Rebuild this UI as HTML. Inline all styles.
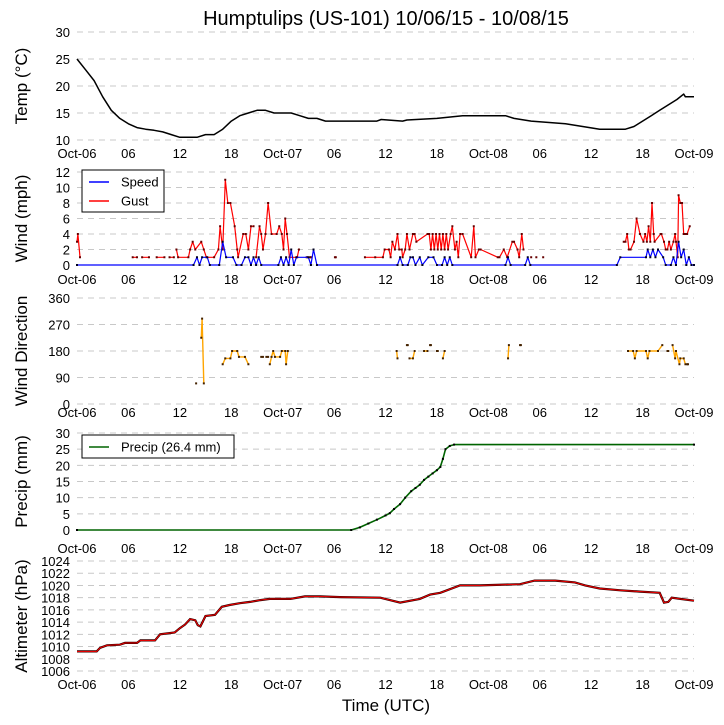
<!DOCTYPE html>
<html><head><meta charset="utf-8"><style>
body{margin:0;background:#fff;}
svg{display:block;font-family:"Liberation Sans","DejaVu Sans",sans-serif;}
</style></head><body>
<svg id="c" width="724" height="725" viewBox="0 0 724 725"></svg>
<script>
const tickLabels=["Oct-06","06","12","18","Oct-07","06","12","18","Oct-08","06","12","18","Oct-09"];
const tempT=[0,1,2,3,4,5,6,7,8,9,10,11,12,13,14,15,16,17,18,19,20,21,22,23,24,25,26,27,28,29,35,35.5,38,38.5,42,45,50,51,53,57,59,61,64,65,66,67,68,69,70,70.8,71,72];
const tempV=[25,23,21,18,15.5,14,13,12.3,12,11.8,11.5,11,10.5,10.5,10.5,11,11,12,13.5,14.5,15,15.5,15.5,15,15,15,14.5,14,14,13.5,13.5,13.8,13.5,13.7,14,14.5,14.5,14,13.5,13,12.5,12,12,12.5,13.5,14.5,15.5,16.5,17.5,18.5,18,18];
const speedT=[0,13.6,14,14.3,14.6,15.2,15.5,16.6,17,17.4,18.2,18.6,19.2,19.6,20,20.3,20.6,20.9,21.2,21.5,23.5,23.8,24.1,24.4,24.7,25,25.3,25.6,27,27.3,27.6,28,37.4,37.7,38,38.6,38.9,39.2,39.5,40,40.3,41,41.6,42,42.6,42.9,43.2,43.5,43.8,50,50.3,50.6,52.3,52.6,52.9,63,63.4,66.4,66.6,66.9,67.2,67.5,67.8,68.4,68.7,69.3,69.6,69.9,70.2,70.5,70.8,71.1,71.4,71.7,72];
const speedV=[0,0,1,0,1,1,0,0,3,1,1,0,0,1,1,0,1,0,1,0,0,1,0,1,0,2,0,1,1,0,2,0,0,1,0,0,1,1,0,1,0,1,1,0,0,1,0,1,0,0,1,0,0,1,0,0,1,1,2,1,2,1,2,1,0,0,1,0,3,1,2,0,1,0,0];
const gustT=[0,0.1,0.35,null,6.5,7,null,7.6,8.4,null,9.3,10.2,null,10.8,11.3,null,11.6,11.8,13,13.2,13.5,13.8,14.5,14.8,15.1,16,16.5,16.7,17,17.3,17.6,17.9,18.4,18.7,18.8,19.4,19.7,20,20.3,20.6,null,20.9,21.3,21.5,21.7,22,22.3,22.7,23.3,23.6,23.9,24.1,24.3,24.5,24.8,25.7,25.9,null,26.8,26.9,null,27.2,27.3,null,30.1,30.2,null,33.6,34.8,35.7,35.9,36.4,36.6,36.8,37.1,37.4,37.6,37.9,38,38.3,38.5,38.8,39.2,39.4,39.6,40.9,41.1,41.3,41.5,41.7,41.9,42.1,42.3,42.5,42.7,42.9,43.1,43.3,43.6,43.8,44.1,44.3,44.5,44.7,45.0,46,46.3,46.5,46.9,47.1,49.1,49.3,49.8,50.2,50.8,51,51.4,51.6,51.9,52.1,null,52.9,53,null,53.5,53.6,null,54.3,54.4,null,63.4,63.8,64,64.2,64.4,64.6,65,65.3,65.7,66.1,66.3,66.5,66.7,66.9,67.1,67.3,67.4,68.1,68.2,68.5,68.7,68.9,69.1,69.3,69.6,69.8,69.9,70.1,70.2,70.4,70.6,70.8,71,71.2,71.5];
const gustV=[3,4,1,null,1,1,null,1,1,null,1,1,null,1,1,null,2,1,1,2,3,2,3,2,1,1,2,5,2,11,8,8,5,2,1,4,4,2,5,5,null,1,5,4,2,4,8,4,4,5,4,2,6,4,1,1,2,null,1,1,null,1,1,null,1,1,null,1,1,1,2,2,1,3,2,4,2,2,1,2,4,2,4,4,3,4,4,2,4,2,4,2,4,2,4,2,4,2,4,5,2,3,1,4,4,1,5,1,2,2,1,1,2,1,3,3,2,1,4,2,1,null,1,1,null,1,1,null,1,1,null,3,3,4,2,2,3,6,4,3,4,3,5,3,8,4,3,4,4,3,2,2,3,2,3,4,3,1,9,8,8,4,4,4,5,2];
const dirT=[13.9,null,14.5,14.6,14.8,null,17,17.3,17.9,18.1,18.7,18.9,19.6,20,null,21.5,21.7,null,22.1,22.3,null,22.5,22.7,22.9,23.1,23.7,23.9,24.3,24.4,24.6,null,37.3,37.4,null,38.5,38.6,null,38.8,39.2,39.4,null,40.5,40.9,null,41.2,41.3,null,42,42.1,null,42.7,42.9,null,50.3,50.4,null,51.7,51.8,null,64.3,64.9,65.1,65.3,66.4,66.6,66.8,67.8,68.3,null,68.9,69,null,69.5,69.8,69.9,70.3,70.4,70.8,71,null,71.2,71.3];
const dirV=[70,null,225,290,70,null,135,155,155,180,180,160,160,135,null,160,160,null,160,160,null,135,160,180,160,160,180,180,135,180,null,180,155,null,200,200,null,155,155,180,null,180,180,null,200,200,null,180,180,null,155,180,null,155,200,null,200,200,null,180,180,155,180,180,155,180,180,200,null,180,180,null,200,155,180,135,155,155,135,null,135,135];
const precT=[0,32,33,34,35,36,36.5,37,37.7,38.3,39,39.5,40,40.5,41,41.5,42,42.4,42.7,43,43.5,44,72];
const precV=[0,0,0.8,2,3.2,4.5,5.2,6.5,8,10,12,13,14,15.5,16.5,17.5,18.5,19.5,22,25,26,26.4,26.4];
const altT=[0,2.3,2.7,3.5,5,5.6,7,7.4,9.1,9.7,10.8,11.4,12,12.6,13.2,13.8,14.1,14.4,15,16.1,16.9,17.8,19,20.2,21.4,22.5,24.9,26.6,28.4,30.7,35.4,36.5,37.7,40,41.2,42.4,44.7,47,51.7,53.4,55.8,58.1,59.3,61,63.4,65.7,68,68.5,69,69.4,70.4,72];
const altV=[1009.2,1009.2,1009.8,1010.2,1010.3,1010.6,1010.6,1011,1011,1012,1012.2,1012.3,1013,1013.6,1014.5,1014.3,1013.5,1013.3,1015,1015.2,1016.5,1016.8,1017.1,1017.3,1017.6,1017.8,1017.8,1018.2,1018.2,1018.1,1018,1017.6,1017.2,1017.8,1018.5,1018.8,1020,1020,1020.2,1020.8,1020.8,1020.5,1020,1019.5,1019.2,1019,1018.8,1017.2,1017.3,1018,1017.8,1017.5];

const NS="http://www.w3.org/2000/svg";
const svg=document.getElementById('c');
const X0=77,X1=694;
const xs=h=>X0+(X1-X0)*h/72;
function el(tag,attrs,parent){const e=document.createElementNS(NS,tag);for(const k in attrs)e.setAttribute(k,attrs[k]);(parent||svg).appendChild(e);return e;}
function txt(s,x,y,size,anchor,parent){const t=el('text',{x:x,y:y,'font-size':size,'text-anchor':anchor||'middle',fill:'#000'},parent);t.textContent=s;return t;}
function pathD(T,V,ys){let d='',pen=false;for(let i=0;i<T.length;i++){if(T[i]===null||V[i]===null){pen=false;continue;}d+=(pen?'L':'M')+xs(T[i]).toFixed(1)+' '+ys(V[i]).toFixed(1);pen=true;}return d;}
const panels=[
 {name:'temp-panel',label:'Temp (\u00B0C)',top:32,bot:140,min:10,max:30,ticks:[10,15,20,25,30],xl:158},
 {name:'wind-panel',label:'Wind (mph)',top:172,bot:265,min:0,max:12,ticks:[0,2,4,6,8,10,12],xl:284},
 {name:'wind-direction-panel',label:'Wind Direction',top:298,bot:404,min:0,max:360,ticks:[0,90,180,270,360],xl:417},
 {name:'precip-panel',label:'Precip (mm)',top:433,bot:530,min:0,max:30,ticks:[0,5,10,15,20,25,30],xl:553},
 {name:'altimeter-panel',label:'Altimeter (hPa)',top:561,bot:671,min:1006,max:1024,ticks:[1006,1008,1010,1012,1014,1016,1018,1020,1022,1024],xl:689}
];
const title=txt('Humptulips (US-101) 10/06/15 - 10/08/15',386,25,20);


const xt=txt('Time (UTC)',386,711,17);


const scales=[];
panels.forEach((p,pi)=>{
 const g=el('g',{});
 
 
 const ys=v=>p.bot-(p.bot-p.top)*(v-p.min)/(p.max-p.min);
 scales.push(ys);
 p.ticks.forEach(t=>{
  const gl=el('line',{x1:X0,x2:X1,y1:ys(t),y2:ys(t),stroke:'#c8c8c8','stroke-dasharray':'6,5','stroke-width':1},g);
  
  
  const tl=txt(String(t),70,ys(t)+5,13,'end',g);
  
  
 });
 tickLabels.forEach((s,i)=>{
  const tl=txt(s,xs(i*6),p.xl,13,'middle',g);
  
  
 });
 const cy=(p.top+p.bot)/2;
 const yl=txt(p.label,0,0,17,'middle',g);
 yl.setAttribute('transform','translate(27,'+cy+') rotate(-90)');
 
 
});
function series(T,V,ys,color,w,name,dark){
 const p=el('path',{d:pathD(T,V,ys),fill:'none',stroke:color,'stroke-width':w,'stroke-linejoin':'round'});
 
 
 if(dark){
  const g=el('g',{fill:dark});
  
  
  for(let i=0;i<T.length;i++){if(T[i]===null||V[i]===null)continue;
   const r=el('rect',{x:xs(T[i])-1,y:ys(V[i])-1,width:2,height:2},g);
   
   }
 }
}
series(tempT,tempV,scales[0],'#000',1.5,'temp-line');
series(gustT,gustV,scales[1],'#f00',1.2,'gust-line','#600');
series(speedT,speedV,scales[1],'#00f',1.2,'speed-line','#002');
series(dirT,dirV,scales[2],'#ffa500',1.4,'wind-direction-line','#442200');
series(precT,precV,scales[3],'#006400',1.6,'precip-line','#000');
const sh=el('path',{d:pathD(altT,altV,scales[4]),fill:'none',stroke:'#300','stroke-width':2.2});


series(altT,altV,scales[4],'#f00',0.9,'altimeter-line');
function legend(x,y,w,h,items,name){
 const g=el('g',{});
 
 
 el('rect',{x:x,y:y,width:w,height:h,fill:'#fff',stroke:'#000','stroke-width':1},g);
 items.forEach((it,i)=>{
  const yy=y+12+i*19;
  el('line',{x1:x+7,x2:x+27,y1:yy,y2:yy,stroke:it[1],'stroke-width':1.5},g);
  const t=txt(it[0],x+39,yy+4.5,13,'start',g);
  
  
 });
}
legend(82,170,82,42,[['Speed','#00f'],['Gust','#f00']],'wind-legend');
legend(82,435,152,23,[['Precip (26.4 mm)','#006400']],'precip-legend');
</script>
</body></html>
